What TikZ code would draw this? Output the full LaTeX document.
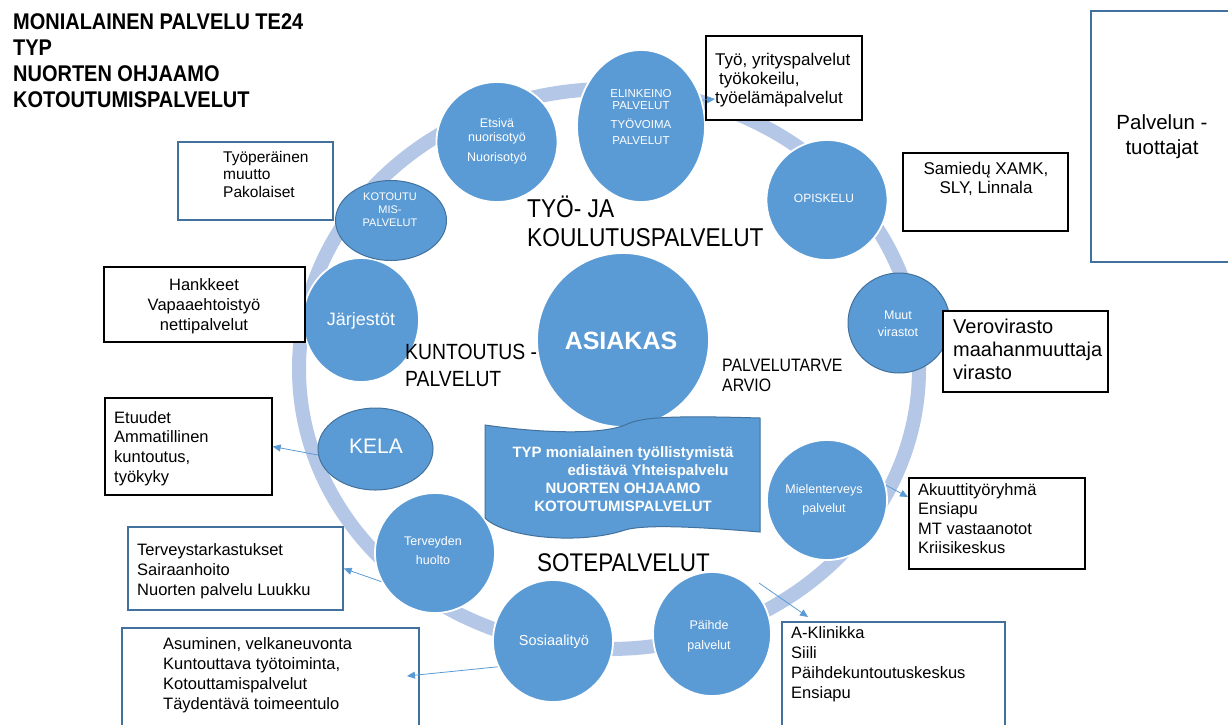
\documentclass[tikz,border=0pt]{standalone}
\usepackage{fontspec}
\setmainfont{Liberation Sans}
\newfontfamily\condfont{Liberation Sans}[FakeStretch=0.88]
\usetikzlibrary{arrows.meta,shapes.geometric}
\definecolor{cblue}{HTML}{5B9BD5}
\definecolor{cdark}{HTML}{41719C}
\definecolor{cring}{HTML}{B4C7E7}
\newcommand{\fsz}[2]{\fontsize{#1pt}{#2pt}\selectfont}
\begin{document}
\begin{tikzpicture}[x=1pt,y=-1pt,
  bub/.style={ellipse, fill=cblue, draw=white, line width=1.8pt, inner sep=0pt},
  bubd/.style={bub, draw=cdark, line width=1pt},
  ctext/.style={text=white, align=center, inner sep=0pt},
  bbox/.style={rectangle, draw=black, line width=1.4pt, fill=white, inner sep=0pt},
  ubox/.style={rectangle, draw=cdark, line width=1.4pt, fill=white, inner sep=0pt},
  btext/.style={align=left, anchor=north west, inner sep=0pt},
  lbl/.style={align=left, anchor=north west, inner sep=0pt},
  arr/.style={draw=cblue, line width=0.8pt, -{Triangle[length=8pt,width=7pt]}}]
\useasboundingbox (0,0) rectangle (1228,724);
\fill[white] (0,0) rectangle (1228,724);

% ring
\draw[cring, line width=14pt] (609,369) ellipse [x radius=310, y radius=280];

% circles
\node[bub, minimum width=121pt, minimum height=120pt] (etsi) at (497,142) {};
\node[bub, minimum width=128pt, minimum height=152pt] (elin) at (641,126) {};
\node[bub, minimum width=121pt, minimum height=120pt] (opis) at (827,200) {};
\node[bubd, minimum width=102pt, minimum height=100pt] (muut) at (899,323) {};
\node[bub, minimum width=120pt, minimum height=120pt] (miel) at (827,500) {};
\node[bub, minimum width=118pt, minimum height=124pt] (paih) at (712,634) {};
\node[bub, minimum width=120pt, minimum height=122pt] (sos) at (553,641) {};
\node[bub, minimum width=120pt, minimum height=120pt] (terv) at (435,553) {};
\node[bubd, minimum width=115pt, minimum height=82pt] (kela) at (375.5,449) {};
\node[bub, minimum width=116pt, minimum height=124pt] (jarj) at (361,320) {};
\node[bubd, minimum width=111pt, minimum height=80pt] (koto) at (391,220.5) {};
\node[bub, minimum width=172pt, minimum height=174pt] (asia) at (623,340) {};

% title and section labels
\node[lbl, font={\condfont\bfseries\fsz{22.7}{26}}] (title) at (13,13.7)
  {MONIALAINEN PALVELU TE24\\TYP\\NUORTEN OHJAAMO\\KOTOUTUMISPALVELUT};
\node[lbl, font={\condfont\fsz{25.8}{29}}] (tyoja) at (527,196) {TYÖ- JA\\KOULUTUSPALVELUT};
\node[lbl, font={\condfont\fsz{22}{27}}] (kunt) at (405,344) {KUNTOUTUS -\\PALVELUT};
\node[lbl, font={\condfont\fsz{18}{20}}] (ptarve) at (722,359) {PALVELUTARVE\\ARVIO};
\node[lbl, font={\condfont\fsz{25.5}{29}}] (sote) at (537,553.7) {SOTEPALVELUT};

% circle texts
\node[ctext, anchor=north, font={\fsz{12.5}{14}}] (etsiT) at (497,118) {Etsivä\\nuorisotyö\\[6pt]Nuorisotyö};
\node[ctext, anchor=north, font={\fsz{11.5}{12}}] (elinT) at (641,89) {ELINKEINO\\PALVELUT\\[7pt]TYÖVOIMA\\[4pt]PALVELUT};
\node[ctext, font={\fsz{12}{14}}] (opisT) at (824,198) {OPISKELU};
\node[ctext, anchor=north, font={\fsz{12.5}{17}}] (muutT) at (898,311) {Muut\\virastot};
\node[ctext, anchor=north, font={\fsz{12.5}{19}}] (mielT) at (824,484) {Mielenterveys\\palvelut};
\node[ctext, anchor=north, font={\fsz{12.5}{20}}] (paihT) at (709,620) {Päihde\\palvelut};
\node[ctext, font={\fsz{14.5}{17}}] (sosT) at (554,642) {Sosiaalityö};
\node[ctext, anchor=north, font={\fsz{12.5}{19}}] (tervT) at (433,536.5) {Terveyden\\huolto};
\node[ctext, font={\fsz{21}{24}}] (kelaT) at (376,446) {KELA};
\node[ctext, font={\fsz{18}{21}}] (jarjT) at (361,321) {Järjestöt};
\node[ctext, anchor=north, font={\fsz{11}{13}}] (kotoT) at (390,193) {KOTOUTU\\MIS-\\PALVELUT};
\node[ctext, font={\bfseries\fsz{25}{28}}] (asiaT) at (621,341) {ASIAKAS};

% banner
\filldraw[fill=cblue, draw=cdark, line width=1pt]
  (485,425) .. controls (540,433) and (600,435) .. (625,425)
  .. controls (640,418) and (660,415) .. (760,418)
  -- (760,532)
  .. controls (700,527) and (645,524) .. (625,530)
  .. controls (580,545) and (505,538) .. (485,518) -- cycle;
\node[ctext, anchor=north, font={\bfseries\fsz{15}{18}}] (banT) at (623,446)
  {TYP monialainen työllistymistä\\\hspace*{50pt}edistävä Yhteispalvelu\\NUORTEN OHJAAMO\\KOTOUTUMISPALVELUT};

% boxes
\node[bbox, minimum width=156pt, minimum height=84pt] (b1) at (784,78) {};
\node[ubox, minimum width=155pt, minimum height=78pt] (b2) at (255.5,181) {};
\node[bbox, minimum width=201pt, minimum height=75pt] (b3) at (204.5,304.5) {};
\node[bbox, minimum width=165pt, minimum height=78pt] (b4) at (985.5,192) {};
\node[ubox, minimum width=149pt, minimum height=251pt] (b5) at (1165.5,136.5) {};
\node[bbox, minimum width=165pt, minimum height=81pt] (b6) at (1025.5,351.5) {};
\node[bbox, minimum width=167pt, minimum height=97pt] (b7) at (188.5,446.5) {};
\node[ubox, minimum width=215pt, minimum height=83pt] (b8) at (235.5,568.5) {};
\node[ubox, minimum width=297pt, minimum height=107pt] (b9) at (270.5,681.5) {};
\node[bbox, minimum width=176pt, minimum height=91pt] (b10) at (997,523.5) {};
\node[ubox, minimum width=223pt, minimum height=113pt] (b11) at (893.5,678.5) {};

% box texts
\node[btext, font={\fsz{17}{19}}] (t1) at (715,53) {Työ, yrityspalvelut\\\hspace*{4pt}työkokeilu,\\työelämäpalvelut};
\node[btext, font={\fsz{15.5}{17.5}}] (t2) at (223,151) {Työperäinen\\muutto\\Pakolaiset};
\node[inner sep=0pt, anchor=north, align=center, font={\fsz{16.5}{20}}] (t3) at (204,278) {Hankkeet\\Vapaaehtoistyö\\nettipalvelut};
\node[inner sep=0pt, anchor=north, align=center, font={\fsz{17}{19}}] (t4) at (986,162) {Samiedų XAMK,\\SLY, Linnala};
\node[inner sep=0pt, anchor=north, align=center, font={\fsz{20.5}{25}}] (t5) at (1162,114) {Palvelun -\\tuottajat};
\node[btext, font={\fsz{20}{23}}] (t6) at (953,318.7) {Verovirasto\\maahanmuuttaja\\virasto};
\node[btext, font={\fsz{16.5}{19.7}}] (t7) at (114,411) {Etuudet\\Ammatillinen\\kuntoutus,\\työkyky};
\node[btext, font={\fsz{16.5}{20}}] (t8) at (137,543) {Terveystarkastukset\\Sairaanhoito\\Nuorten palvelu Luukku};
\node[btext, font={\fsz{16.5}{20}}] (t9) at (163,637) {Asuminen, velkaneuvonta\\Kuntouttava työtoiminta,\\Kotouttamispalvelut\\Täydentävä toimeentulo};
\node[btext, font={\fsz{16.5}{19.5}}] (t10) at (918,483) {Akuuttityöryhmä\\Ensiapu\\MT vastaanotot\\Kriisikeskus};
\node[btext, font={\fsz{16.5}{20}}] (t11) at (791,626) {A-Klinikka\\Siili\\Päihdekuntoutuskeskus\\Ensiapu};

% connectors
\coordinate (cEl) at (715,99);
\coordinate (cSos) at (407,676);
\coordinate (cMiel) at (908,497);
\coordinate (cPa1) at (759,583);
\coordinate (cPa2) at (808,617);
\draw[arr] (elin.23) -- (cEl);
\draw[arr] (kela.186) -- (b7.east);
\draw[arr] (terv.208) -- (b8.east);
\draw[arr] (sos.205) -- (cSos);
\draw[arr] (miel.14) -- (cMiel);
\draw[arr] (cPa1) -- (cPa2);
\end{tikzpicture}
\end{document}
